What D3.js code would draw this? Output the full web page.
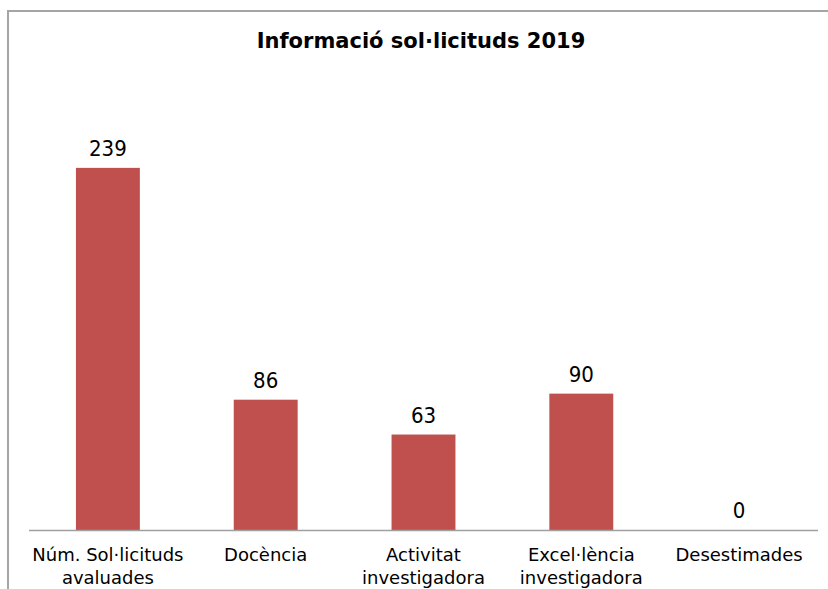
<!DOCTYPE html>
<html><head><meta charset="utf-8">
<script src="https://cdn.jsdelivr.net/npm/d3@7"></script>
<style>body{margin:0;background:#fff}svg{display:block}</style>
</head><body>
<script>
const categories = [["Núm. Sol·licituds","avaluades"],["Docència"],["Activitat","investigadora"],["Excel·lència","investigadora"],["Desestimades"]];
const values = [239, 86, 63, 90, 0];
const title = "Informació sol·licituds 2019";

const W = 828, H = 589;
const svg = d3.select("body").append("svg").attr("width", W).attr("height", H);

// outer border (top & left visible)
svg.append("path").attr("d", "M8,600 V11 H830").attr("fill", "none").attr("stroke", "#a5a5a5").attr("stroke-width", 2);

const x = d3.scaleBand().domain(d3.range(values.length)).range([29, 818]).paddingInner(0.595).paddingOuter(0.2975);
const y = d3.scaleLinear().domain([0, 250]).range([530, 151.2]);

svg.append("text").attr("x", 421).attr("y", 48).attr("text-anchor", "middle")
  .style("font-family", "'DejaVu Sans'").style("font-weight", "bold").style("font-size", "21px").attr("fill", "#000").text(title);

svg.selectAll("rect.bar").data(values).enter().append("rect").attr("class", "bar")
  .attr("x", (d, i) => x(i)).attr("width", x.bandwidth())
  .attr("y", d => y(d)).attr("height", d => y(0) - y(d)).attr("fill", "#C0504D");

svg.append("line").attr("x1", 29).attr("x2", 818).attr("y1", y(0) + 0.5).attr("y2", y(0) + 0.5).attr("stroke", "#a0a0a0").attr("stroke-width", 1.5);

svg.selectAll("text.val").data(values).enter().append("text").attr("class", "val")
  .attr("x", (d, i) => x(i) + x.bandwidth() / 2).attr("y", d => y(d) - 12)
  .attr("text-anchor", "middle").style("font-family", "'DejaVu Sans Condensed','DejaVu Sans'").style("font-size", "22px").attr("fill", "#000").text(d => d);

const labels = svg.selectAll("text.cat").data(categories).enter().append("text").attr("class", "cat")
  .attr("text-anchor", "middle").style("font-family", "'DejaVu Sans'").style("font-size", "18px").attr("fill", "#000");
labels.each(function(d, i) {
  const cx = x(i) + x.bandwidth() / 2;
  d3.select(this).selectAll("tspan").data(d).enter().append("tspan")
    .attr("x", cx).attr("y", (t, j) => 561 + j * 23).text(t => t);
});
</script>
</body></html>
